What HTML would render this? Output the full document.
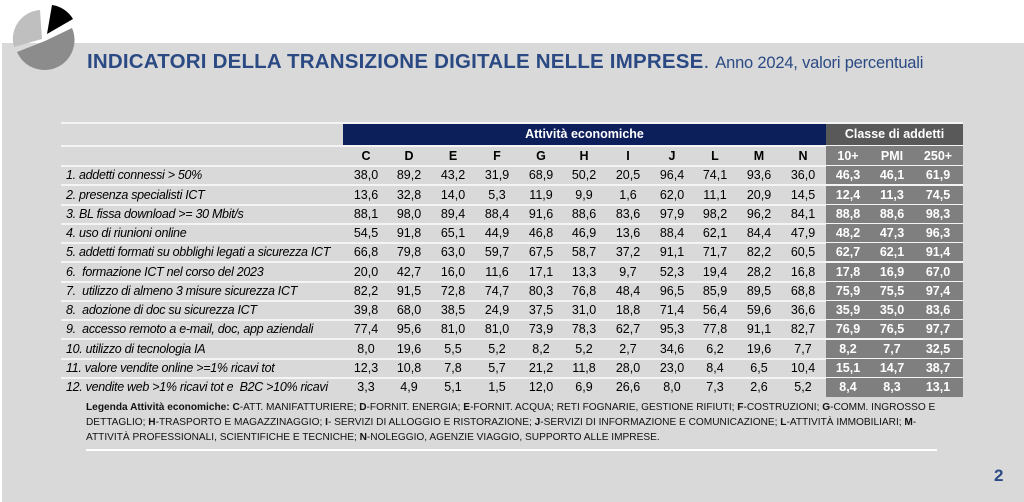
<!DOCTYPE html>
<html><head><meta charset="utf-8"><style>
body{margin:0;width:1024px;height:502px;overflow:hidden;background:#fff;font-family:"Liberation Sans",sans-serif;position:relative}
.bg{position:absolute;left:2px;top:43px;width:1022px;height:459px;background:#d9d9d9}
.t{position:absolute;white-space:nowrap}
.row{position:absolute;left:61px;width:902px;height:19px;font-size:12.5px;line-height:19px}
.row .l{position:absolute;left:5px;font-style:italic;letter-spacing:-0.3px}
.row span{position:absolute;width:44px;margin-left:-22px;text-align:center}
.g{position:absolute;left:765px;width:137px;height:19px;background:#7f7f7f}
.row span.w{color:#fff;font-weight:bold}
.line{position:absolute;left:61px;width:902px;height:2px;background:#f4f4f4}
</style></head><body>
<div class="bg"></div>
<svg class="t" style="left:8px;top:3px" width="72" height="72" viewBox="0 0 72 72">
<path d="M37 38 L64 25 A30 30 0 1 1 9 49 Z" fill="#8c8c8c"/>
<path d="M34 36 L6 44 A29 29 0 0 1 32 7 Z" fill="#bfbfbf"/>
<path d="M39 31 L44 2 A29 29 0 0 1 65 16 Z" fill="#000"/>
</svg>
<div class="t" style="left:87px;top:50px;font-size:20.5px;color:#2b4a84;letter-spacing:0.2px"><b>INDICATORI DELLA TRANSIZIONE DIGITALE NELLE IMPRESE</b>. <span style="font-size:16.5px;letter-spacing:-0.2px">Anno 2024, valori percentuali</span></div>
<div style="position:absolute;left:61px;top:122px;width:902px;height:2px;background:#f4f4f4"></div>
<div style="position:absolute;left:343px;top:124px;width:483px;height:21px;background:#0c1f5b;color:#fff;font-weight:bold;font-size:12.5px;line-height:21px;text-align:center">Attività economiche</div>
<div style="position:absolute;left:826px;top:124px;width:137px;height:21px;background:#595959;color:#fff;font-weight:bold;font-size:12.5px;line-height:21px;text-align:center">Classe di addetti</div>
<div class="line" style="top:145px"></div>
<div id="rows"></div>
<div class="t" style="left:86px;top:400px;font-size:10.15px;line-height:15px;color:#111;letter-spacing:0">
<b>Legenda Attività economiche: C</b>-ATT. MANIFATTURIERE; <b>D</b>-FORNIT. ENERGIA; <b>E</b>-FORNIT. ACQUA; RETI FOGNARIE, GESTIONE RIFIUTI; <b>F</b>-COSTRUZIONI; <b>G</b>-COMM. INGROSSO E<br>
DETTAGLIO; <b>H</b>-TRASPORTO E MAGAZZINAGGIO; <b>I</b>- SERVIZI DI ALLOGGIO E RISTORAZIONE; <b>J</b>-SERVIZI DI INFORMAZIONE E COMUNICAZIONE; <b>L</b>-ATTIVITÀ IMMOBILIARI; <b>M</b>-<br>
ATTIVITÀ PROFESSIONALI, SCIENTIFICHE E TECNICHE; <b>N</b>-NOLEGGIO, AGENZIE VIAGGIO, SUPPORTO ALLE IMPRESE.</div>
<div style="position:absolute;left:86px;top:449px;width:851px;height:2px;background:#fff"></div>
<div class="t" style="left:994px;top:466px;font-size:17px;font-weight:bold;color:#2b4a84">2</div>
<script>
var xs=[366,409,453,497,541,584,628,672,715,759,803,848,892,938];
var rows=[["",["C","D","E","F","G","H","I","J","L","M","N","10+","PMI","250+"]],
["1. addetti connessi > 50%","38,0 89,2 43,2 31,9 68,9 50,2 20,5 96,4 74,1 93,6 36,0 46,3 46,1 61,9"],
["2. presenza specialisti ICT","13,6 32,8 14,0 5,3 11,9 9,9 1,6 62,0 11,1 20,9 14,5 12,4 11,3 74,5"],
["3. BL fissa download >= 30 Mbit/s","88,1 98,0 89,4 88,4 91,6 88,6 83,6 97,9 98,2 96,2 84,1 88,8 88,6 98,3"],
["4. uso di riunioni online","54,5 91,8 65,1 44,9 46,8 46,9 13,6 88,4 62,1 84,4 47,9 48,2 47,3 96,3"],
["5. addetti formati su obblighi legati a sicurezza ICT","66,8 79,8 63,0 59,7 67,5 58,7 37,2 91,1 71,7 82,2 60,5 62,7 62,1 91,4"],
["6.  formazione ICT nel corso del 2023","20,0 42,7 16,0 11,6 17,1 13,3 9,7 52,3 19,4 28,2 16,8 17,8 16,9 67,0"],
["7.  utilizzo di almeno 3 misure sicurezza ICT","82,2 91,5 72,8 74,7 80,3 76,8 48,4 96,5 85,9 89,5 68,8 75,9 75,5 97,4"],
["8.  adozione di doc su sicurezza ICT","39,8 68,0 38,5 24,9 37,5 31,0 18,8 71,4 56,4 59,6 36,6 35,9 35,0 83,6"],
["9.  accesso remoto a e-mail, doc, app aziendali","77,4 95,6 81,0 81,0 73,9 78,3 62,7 95,3 77,8 91,1 82,7 76,9 76,5 97,7"],
["10. utilizzo di tecnologia IA","8,0 19,6 5,5 5,2 8,2 5,2 2,7 34,6 6,2 19,6 7,7 8,2 7,7 32,5"],
["11. valore vendite online >=1% ricavi tot","12,3 10,8 7,8 5,7 21,2 11,8 28,0 23,0 8,4 6,5 10,4 15,1 14,7 38,7"],
["12. vendite web >1% ricavi tot e  B2C >10% ricavi","3,3 4,9 5,1 1,5 12,0 6,9 26,6 8,0 7,3 2,6 5,2 8,4 8,3 13,1"]];
var h="";
rows.forEach(function(r,i){
 var top=i==0?147:147+19.25*i;
 var vals=typeof r[1]=="string"?r[1].split(" "):r[1];
 h+='<div class="row" style="top:'+top+'px">'+'<div class="g"'+(i==0?' style="top:-1px;height:20px"':'')+'></div><div class="l">'+r[0].replace(/  /g,"&nbsp; ").replace(/</g,"&lt;").replace(/>/g,"&gt;").replace(/&amp;/g,"&")+'</div>';
 vals.forEach(function(v,j){h+='<span class="'+(j>10?'w':'')+'" style="left:'+(xs[j]-61)+'px'+(i==0?';font-weight:bold':'')+'">'+v+'</span>';});
 h+='</div>';
 if(i<12)h+='<div class="line" style="top:'+(top+18)+'px;height:2px"></div>';
});
document.getElementById("rows").innerHTML=h;
</script>
</body></html>
